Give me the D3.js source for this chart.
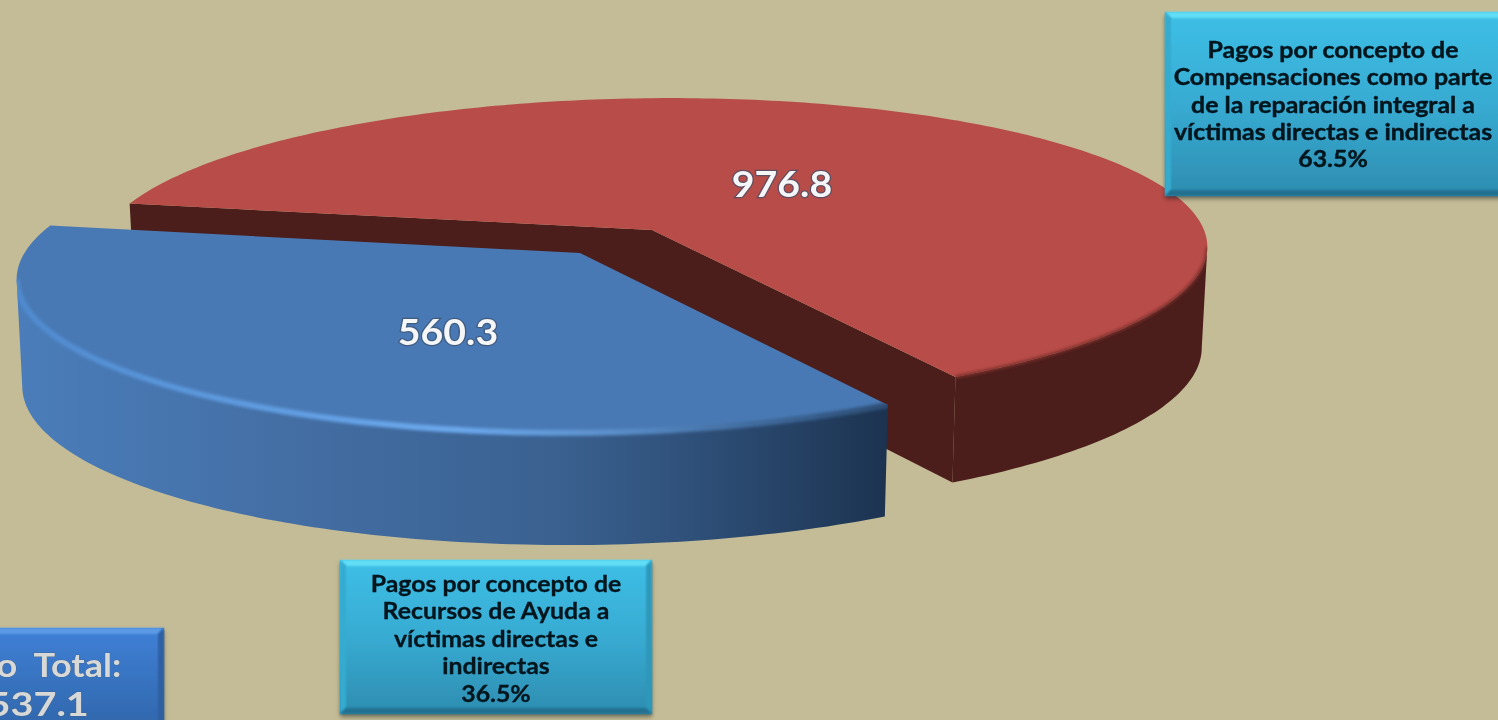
<!DOCTYPE html>
<html>
<head>
<meta charset="utf-8">
<script src="https://cdn.jsdelivr.net/npm/d3@7"></script>
<style>
  html, body { margin: 0; padding: 0; background: #c4bc96; overflow: hidden; }
  text { font-family: Lato, sans-serif; font-weight: 700; text-anchor: middle; white-space: pre; }
</style>
</head>
<body>
<div id="chart"></div>
<script>
const categories = ["Compensaciones", "Recursos de Ayuda"];
const values = [976.8, 560.3];
const valueLabels = ["976.8", "560.3"];
const compLines = ["Pagos por concepto de", "Compensaciones como parte", "de la reparación integral a", "víctimas directas e indirectas", "63.5%"];
const ayudaLines = ["Pagos por concepto de", "Recursos de Ayuda a", "víctimas directas e", "indirectas", "36.5%"];
const totalLines = ["Monto  Total:", "1,537.1"];

const width = 1498;
const height = 720;
const rad = Math.PI / 180;

// the two slices: centre of the top face, radii, wall height, colours
const sliceStyle = [
  { cx: 652, cy: 230, rx: 550, ry: 150, depth: 100, top: "#b84c48", wall: "#4b1d1b", rim: "#7a2f2c", rimWidth: 3, labelX: 782, labelY: 197 },
  { cx: 580, cy: 253, rx: 558, ry: 155, depth: 106, top: "#4979b4", wall: "url(#blueWall)", rim: "url(#blueRim)", rimWidth: 6, labelX: 448, labelY: 345 }
];

const svg = d3.select("#chart").append("svg")
  .attr("width", width)
  .attr("height", height)
  .style("display", "block");

svg.append("rect").attr("width", width).attr("height", height).attr("fill", "#c4bc96");

const defs = svg.append("defs");

function linearGradient(id, stops, horizontal) {
  const g = defs.append("linearGradient").attr("id", id)
    .attr("x1", 0).attr("y1", 0)
    .attr("x2", horizontal ? 1 : 0).attr("y2", horizontal ? 0 : 1);
  stops.forEach(s => g.append("stop").attr("offset", s[0]).attr("stop-color", s[1]));
}

linearGradient("blueWall", [[0, "#4a7dba"], [0.3, "#446fa5"], [0.62, "#3a6190"], [0.8, "#2d4d75"], [1, "#1c3350"]], true);
linearGradient("blueRim", [[0, "#4f8ace"], [0.2, "#5a97dc"], [0.5, "#6ba8ec"], [0.68, "#5c90cc"], [0.85, "#3f6a9c"], [1, "#2c4d74"]], true);
linearGradient("cyanFace", [[0, "#3dbfe6"], [0.5, "#38abd2"], [1, "#2d8db0"]], false);
linearGradient("blueFace", [[0, "#3f80d6"], [1, "#2c5f9f"]], false);

defs.append("filter").attr("id", "soft").attr("x", "-5%").attr("y", "-5%").attr("width", "110%").attr("height", "110%")
  .append("feGaussianBlur").attr("stdDeviation", 1.4);
defs.append("filter").attr("id", "edgeSoft").attr("x", "-5%").attr("y", "-20%").attr("width", "110%").attr("height", "140%")
  .append("feGaussianBlur").attr("stdDeviation", 0.9);
defs.append("filter").attr("id", "textSoft").append("feGaussianBlur").attr("stdDeviation", 0.45);

const shadow = defs.append("filter").attr("id", "boxShadow").attr("x", "-5%").attr("y", "-5%").attr("width", "110%").attr("height", "115%");
shadow.append("feDropShadow").attr("dx", 0).attr("dy", 3).attr("stdDeviation", 2).attr("flood-color", "#000").attr("flood-opacity", 0.4);

// perspective disc: the near side of the pie opens up a bit, with a small tilt
const perspective = 0.138;
const tilt = -4.5;
const frontFrom = 98 * rad;
const frontTo = 262 * rad;

function project(style, angle, lower) {
  const a = Math.sin(angle);
  const b = -Math.cos(angle);
  const w = 1 - perspective * b;
  const shrink = lower ? 0.99 : 1;
  const xUnit = d3.scaleLinear().domain([-1, 1]).range([-style.rx, style.rx]);
  const yUnit = d3.scaleLinear().domain([-1, 1]).range([-style.ry, style.ry]);
  return [
    style.cx + shrink * xUnit(a / w),
    style.cy + shrink * (yUnit(b / w) + tilt * a) + (lower ? style.depth + 8 * b : 0)
  ];
}

const line = d3.line();

function arcPoints(style, start, end, lower) {
  const steps = d3.range(start, end, rad);
  steps.push(end);
  return steps.map(t => project(style, t, lower));
}

// the stretch of a slice's outer edge that faces the viewer
function frontRange(start, end) {
  const turn = 2 * Math.PI;
  const k = Math.floor(end / turn);
  return [Math.max(start, frontFrom + k * turn), Math.min(end, frontTo + k * turn)];
}

const pie = d3.pie().sort(null).startAngle(282.2 * rad).endAngle(642.2 * rad);
const slices = pie(values);

const plot = svg.append("g");

slices.forEach((s, i) => {
  const style = sliceStyle[i];
  const start = s.startAngle;
  const end = s.endAngle;
  const topArc = arcPoints(style, start, end, false);
  const lowArc = arcPoints(style, start, end, true);
  const front = frontRange(start, end);
  const frontTop = arcPoints(style, front[0], front[1], false);
  const frontLow = arcPoints(style, front[0], front[1], true);
  const hub = [style.cx, style.cy];
  const hubLow = [style.cx, style.cy + style.depth];
  const g = plot.append("g").attr("class", "slice-" + i).attr("data-name", categories[i]);

  const wallPath = line(frontTop.concat(frontLow.slice().reverse())) + "Z";
  const topPath = line(topArc.concat([hub])) + "Z";

  // cut faces
  if (i === 0) {
    g.append("path")
      .attr("d", line([topArc[0], hub, topArc[topArc.length - 1], lowArc[lowArc.length - 1], hubLow, lowArc[0]]) + "Z")
      .attr("fill", style.wall);
  }

  // outer wall
  g.append("path").attr("d", wallPath).attr("fill", style.wall);

  // top face
  g.append("path").attr("d", topPath).attr("fill", style.top);

  // bevelled rim along the front edge, kept inside the slice outline
  const clipId = "sliceClip" + i;
  const clip = defs.append("clipPath").attr("id", clipId);
  clip.append("path").attr("d", topPath);
  clip.append("path").attr("d", wallPath);
  g.append("g").attr("clip-path", `url(#${clipId})`)
    .append("path")
    .attr("d", line(frontTop))
    .attr("fill", "none")
    .attr("stroke", style.rim)
    .attr("stroke-width", style.rimWidth)
    .attr("filter", "url(#soft)");

  // value label with its halo
  [["#3d4f6b", 2.5], [null, 0]].forEach(layer => {
    g.append("text")
      .attr("transform", `translate(${style.labelX},${style.labelY}) scale(1.09,1)`)
      .attr("font-size", 36)
      .attr("fill", layer[0] ? "none" : "#f4f6f8")
      .attr("stroke", layer[0] || "none")
      .attr("stroke-width", layer[1])
      .attr("stroke-opacity", 0.7)
      .attr("filter", "url(#textSoft)")
      .text(valueLabels[i]);
  });
});

function drawBox(x, y, w, h, face, bevel, lines, opts) {
  const g = svg.append("g");
  const b = 6;
  g.append("rect").attr("x", x).attr("y", y).attr("width", w).attr("height", h)
    .attr("fill", face).attr("filter", "url(#boxShadow)");
  const x2 = x + w;
  const y2 = y + h;
  const edges = [
    [[x, y], [x2, y], [x2 - b, y + b], [x + b, y + b], bevel[0]],
    [[x, y], [x + b, y + b], [x + b, y2 - b], [x, y2], bevel[1]],
    [[x2, y], [x2 - b, y + b], [x2 - b, y2 - b], [x2, y2], bevel[2]],
    [[x, y2], [x + b, y2 - b], [x2 - b, y2 - b], [x2, y2], bevel[3]]
  ];
  edges.forEach(e => {
    g.append("path").attr("d", line(e.slice(0, 4)) + "Z").attr("fill", e[4]).attr("filter", "url(#edgeSoft)");
  });
  lines.forEach((t, i) => {
    g.append("text")
      .attr("transform", `translate(${opts.cx[i]},${opts.baselines[i]}) scale(${opts.stretch[i]},1)`)
      .attr("font-size", opts.size)
      .attr("fill", opts.color)
      .attr("stroke", opts.halo)
      .attr("stroke-width", opts.haloWidth)
      .attr("paint-order", "stroke")
      .attr("filter", "url(#textSoft)")
      .text(t);
  });
}

const cyanBevel = ["#62dff6", "#36abd0", "#2f98ba", "#236f8f"];
drawBox(1165, 12, 340, 184, "url(#cyanFace)", cyanBevel, compLines,
  { cx: d3.range(5).map(() => 1333), baselines: [58, 85, 113, 140, 167], size: 22, stretch: d3.range(5).map(() => 1.13), color: "#06141c", halo: "#06141c", haloWidth: 0.4 });
drawBox(340, 560, 312, 154, "url(#cyanFace)", cyanBevel, ayudaLines,
  { cx: d3.range(5).map(() => 496), baselines: [592, 619, 647, 674, 702], size: 23, stretch: d3.range(5).map(() => 1.08), color: "#06141c", halo: "#06141c", haloWidth: 0.3 });
drawBox(-104, 628, 268, 130, "url(#blueFace)", ["#5c9ae6", "#3a72bd", "#2f5f9e", "#234a7d"], totalLines,
  { cx: [15, 22], baselines: [677, 716], size: 32, stretch: [1.13, 1.24], color: "#d6d9d8", halo: "#4a5d72", haloWidth: 0.6 });
</script>
</body>
</html>
